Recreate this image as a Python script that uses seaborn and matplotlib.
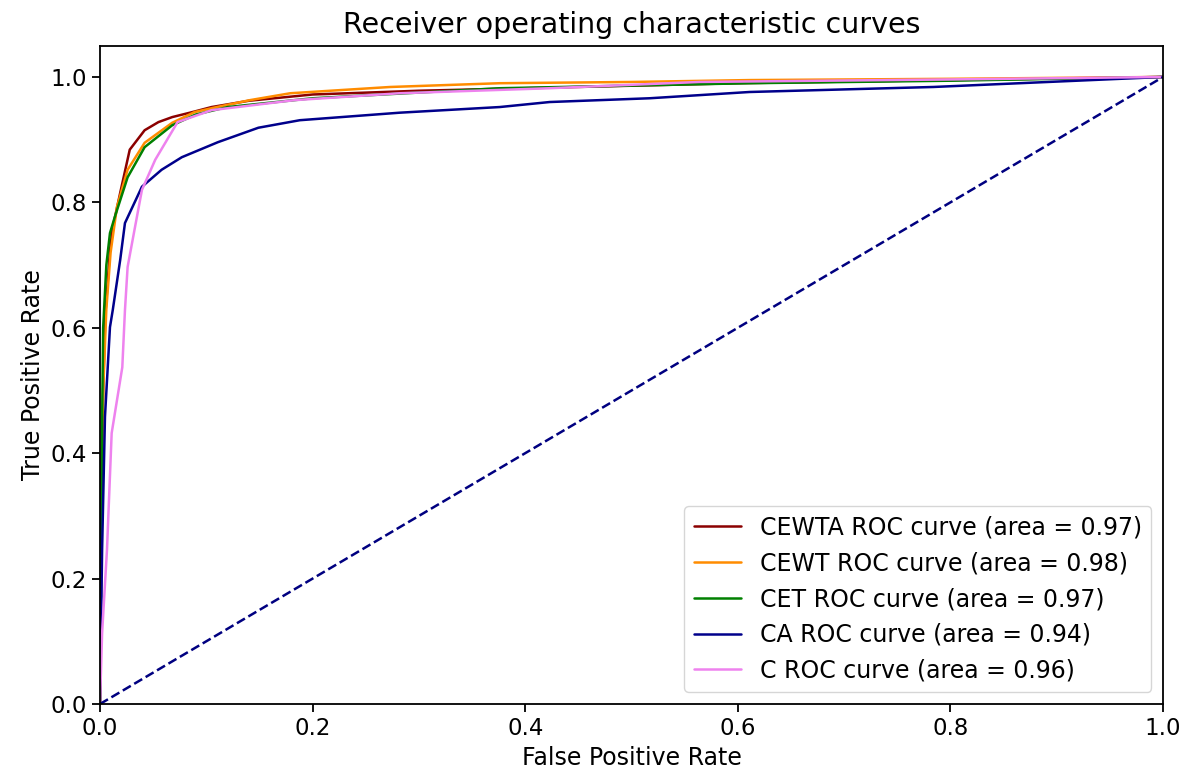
import numpy as np
import pandas as pd
import matplotlib
matplotlib.use("Agg")
import matplotlib.pyplot as plt
import seaborn as sns

# ROC points (false positive rate, true positive rate) per model
cewta_fpr = [0, 0.001, 0.003, 0.005, 0.008, 0.0094, 0.012, 0.019, 0.028, 0.042, 0.055, 0.068, 0.087, 0.105, 0.14, 0.2, 0.3, 0.4, 0.5, 0.6, 0.8, 1.0]
cewta_tpr = [0, 0.3, 0.5, 0.62, 0.69, 0.724, 0.76, 0.815, 0.884, 0.915, 0.928, 0.936, 0.944, 0.952, 0.962, 0.972, 0.978, 0.982, 0.986, 0.99, 0.995, 1.0]

cewt_fpr = [0, 0.001, 0.003, 0.006, 0.01, 0.016, 0.026, 0.042, 0.068, 0.089, 0.11, 0.141, 0.179, 0.273, 0.376, 0.5, 0.611, 0.8, 1.0]
cewt_tpr = [0, 0.3, 0.5, 0.63, 0.72, 0.793, 0.852, 0.895, 0.927, 0.944, 0.952, 0.963, 0.974, 0.984, 0.990, 0.992, 0.995, 0.997, 1.0]

cet_fpr = [0, 0.001, 0.002, 0.003, 0.006, 0.0094, 0.014, 0.026, 0.042, 0.068, 0.09, 0.12, 0.2, 0.376, 0.611, 0.8, 1.0]
cet_tpr = [0, 0.2, 0.45, 0.6, 0.7, 0.751, 0.777, 0.84, 0.888, 0.923, 0.94, 0.952, 0.966, 0.982, 0.990, 0.994, 1.0]

ca_fpr = [0, 0.002, 0.0047, 0.0094, 0.012, 0.019, 0.0235, 0.0395, 0.058, 0.077, 0.111, 0.149, 0.188, 0.282, 0.376, 0.423, 0.517, 0.611, 0.784, 1.0]
ca_tpr = [0, 0.246, 0.458, 0.601, 0.628, 0.708, 0.767, 0.825, 0.852, 0.872, 0.896, 0.919, 0.931, 0.943, 0.952, 0.960, 0.966, 0.976, 0.984, 1.0]

c_fpr = [0, 0.002, 0.0066, 0.011, 0.021, 0.0235, 0.026, 0.033, 0.0395, 0.052, 0.073, 0.105, 0.183, 0.282, 0.423, 0.564, 0.8, 1.0]
c_tpr = [0, 0.113, 0.246, 0.432, 0.537, 0.628, 0.697, 0.761, 0.82, 0.868, 0.928, 0.947, 0.963, 0.974, 0.982, 0.992, 0.996, 1.0]

models = ["CEWTA", "CEWT", "CET", "CA", "C"]
areas = [0.97, 0.98, 0.97, 0.94, 0.96]
colors = ["darkred", "darkorange", "green", "darkblue", "violet"]
curves = [(cewta_fpr, cewta_tpr), (cewt_fpr, cewt_tpr), (cet_fpr, cet_tpr),
          (ca_fpr, ca_tpr), (c_fpr, c_tpr)]

frames = []
for name, auc, (fpr, tpr) in zip(models, areas, curves):
    label = f"{name} ROC curve (area = {auc:.2f})"
    frames.append(pd.DataFrame({"fpr": fpr, "tpr": tpr, "model": label}))
df = pd.concat(frames, ignore_index=True)
labels = df["model"].unique().tolist()
palette = dict(zip(labels, colors))

sns.set_theme(style="ticks")
plt.rcParams["font.family"] = ["DejaVu Sans"]
plt.rcParams.update({
    "text.color": "black", "axes.labelcolor": "black",
    "xtick.color": "black", "ytick.color": "black",
    "axes.edgecolor": "black",
})

fig = plt.figure(figsize=(11.93, 7.78), dpi=100)
ax = fig.add_axes([0.0838, 0.0951, 0.8911, 0.8463])

sns.lineplot(data=df, x="fpr", y="tpr", hue="model", hue_order=labels,
             palette=palette, sort=False, estimator=None, lw=1.8, ax=ax)
ax.plot([0, 1], [0, 1], color="navy", lw=1.8, linestyle="--")

ax.set_xlim(0.0, 1.0)
ax.set_ylim(0.0, 1.05)
ax.tick_params(labelsize=16.5, width=1.3, length=6)
for s in ax.spines.values():
    s.set_linewidth(1.3)
ax.set_xlabel("False Positive Rate", fontsize=17)
ax.set_ylabel("True Positive Rate", fontsize=17)
ax.set_title("Receiver operating characteristic curves", fontsize=20.5, pad=9)
ax.legend(loc="lower right", fontsize=17, title=None)

fig.savefig("out.png", dpi=100)
